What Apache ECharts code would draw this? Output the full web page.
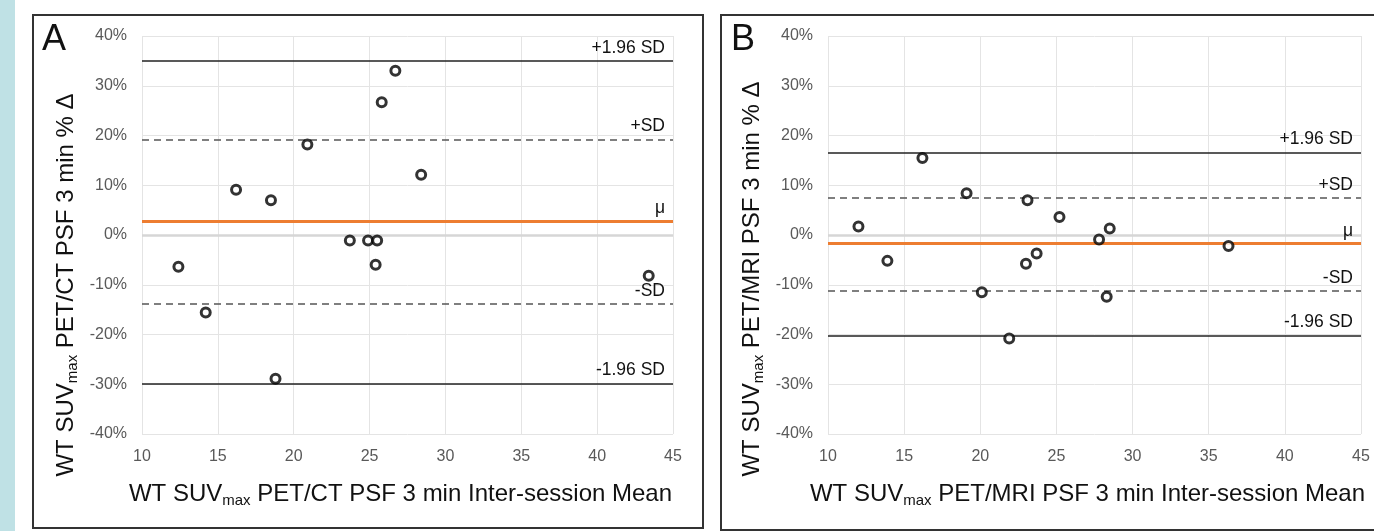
<!DOCTYPE html>
<html>
<head>
<meta charset="utf-8">
<script src="https://cdn.jsdelivr.net/npm/echarts@6/dist/echarts.min.js"></script>
<style>
  html, body { margin: 0; padding: 0; background: #fff; }
  #my_chart { width: 1374px; height: 531px; }
</style>
</head>
<body>
<div id="my_chart"></div>
<script>
  // panel A: PET/CT
  var aX = [12.4, 14.2, 16.2, 18.5, 18.8, 20.9, 23.7, 24.9, 25.5, 25.4, 25.8, 26.7, 28.4, 43.4];
  var aY = [-6.4, -15.6, 9.1, 7.0, -28.9, 18.2, -1.1, -1.1, -1.1, -6.0, 26.7, 33.0, 12.1, -8.2];
  var aLines = [35.0, 19.2, 2.7, -13.9, -29.8];

  // panel B: PET/MRI
  var bX = [12.0, 13.9, 16.2, 19.1, 20.1, 21.9, 23.0, 23.1, 23.7, 25.2, 27.8, 28.3, 28.5, 36.3];
  var bY = [1.7, -5.2, 15.5, 8.4, -11.5, -20.8, -5.8, 7.0, -3.7, 3.6, -0.9, -12.4, 1.3, -2.2];
  var bLines = [16.6, 7.5, -1.75, -11.2, -20.2];

  var lineLabels = ['+1.96 SD', '+SD', 'μ', '-SD', '-1.96 SD'];
  var xTicks = [10, 15, 20, 25, 30, 35, 40, 45];
  var yTicks = [-40, -30, -20, -10, 0, 10, 20, 30, 40];

  var my_chart = echarts.init(document.getElementById('my_chart'));

  var subRich = { sub: { fontSize: 15, padding: [13, 0, 0, 0], verticalAlign: 'bottom' } };

  function makeX(idx, name) {
    return {
      type: 'value', gridIndex: idx,
      min: xTicks[0], max: xTicks[xTicks.length - 1], interval: 5,
      name: name, nameLocation: 'middle', nameGap: 46,
      nameTextStyle: { fontSize: 24, color: '#111', padding: [0, 14, 0, 0], rich: subRich },
      axisLine: { show: false }, axisTick: { show: false },
      axisLabel: { color: '#595959', fontSize: 16, margin: 15 },
      splitLine: { lineStyle: { color: '#e4e4e4', width: 1 } }
    };
  }

  function makeY(idx, name, shift) {
    return {
      type: 'value', gridIndex: idx,
      min: yTicks[0], max: yTicks[yTicks.length - 1], interval: 10,
      name: name, nameLocation: 'middle', nameGap: 62,
      nameTextStyle: { fontSize: 24, color: '#111', padding: [0, shift, 0, 0], rich: subRich },
      axisLine: { show: false }, axisTick: { show: false },
      axisLabel: { color: '#595959', fontSize: 16, margin: 15, formatter: '{value}%' },
      splitLine: { lineStyle: { color: '#e4e4e4', width: 1 } }
    };
  }

  function refLines(vals) {
    var styles = [
      { color: '#222', width: 1.6, type: 'solid' },
      { color: '#555', width: 1.6, type: [7, 5] },
      { color: '#ED7D31', width: 3, type: 'solid' },
      { color: '#555', width: 1.6, type: [7, 5] },
      { color: '#222', width: 1.6, type: 'solid' }
    ];
    var out = [{ yAxis: 0, lineStyle: { color: '#d6d6d6', width: 2.5, type: 'solid' }, label: { show: false } }];
    vals.forEach(function (v, i) {
      out.push({ yAxis: v, name: lineLabels[i], lineStyle: styles[i] });
    });
    return out;
  }

  function panelSeries(idx, xs, ys, lines) {
    return [{
      type: 'line', xAxisIndex: idx, yAxisIndex: idx, data: [], z: 1,
      markLine: {
        silent: true, symbol: 'none', animation: false,
        label: { position: 'insideEndTop', formatter: '{b}', color: '#111', fontSize: 17.5, distance: [8, 4] },
        data: refLines(lines)
      }
    }, {
      type: 'scatter', xAxisIndex: idx, yAxisIndex: idx, z: 5,
      symbol: 'circle', symbolSize: 9,
      itemStyle: { color: '#fff', borderColor: '#000', borderWidth: 3 },
      data: xs.map(function (x, i) { return [x, ys[i]]; })
    }];
  }

  my_chart.setOption({
    animation: false,
    textStyle: { fontFamily: 'Liberation Sans, Arial, sans-serif' },
    grid: [
      { left: 142, top: 36, width: 531, height: 398 },
      { left: 828, top: 36, width: 533, height: 398 }
    ],
    xAxis: [
      makeX(0, 'WT SUV{sub|max} PET/CT PSF 3 min Inter-session Mean'),
      makeX(1, 'WT SUV{sub|max} PET/MRI PSF 3 min Inter-session Mean')
    ],
    yAxis: [
      makeY(0, 'WT SUV{sub|max} PET/CT PSF 3 min % Δ', 100),
      makeY(1, 'WT SUV{sub|max} PET/MRI PSF 3 min % Δ', 88)
    ],
    graphic: [
      { type: 'rect', left: 0, top: 0, shape: { width: 15, height: 531 }, style: { fill: '#bfe1e5' } },
      { type: 'rect', shape: { x: 33, y: 15, width: 670, height: 513 }, style: { fill: 'none', stroke: '#333', lineWidth: 2 } },
      { type: 'rect', shape: { x: 721, y: 15, width: 680, height: 515 }, style: { fill: 'none', stroke: '#333', lineWidth: 2 } },
      { type: 'text', left: 42, top: 22, style: { text: 'A', fontSize: 36, fill: '#111', fontFamily: 'Liberation Sans' } },
      { type: 'text', left: 731, top: 22, style: { text: 'B', fontSize: 36, fill: '#111', fontFamily: 'Liberation Sans' } }
    ],
    series: panelSeries(0, aX, aY, aLines).concat(panelSeries(1, bX, bY, bLines))
  });
</script>
</body>
</html>
